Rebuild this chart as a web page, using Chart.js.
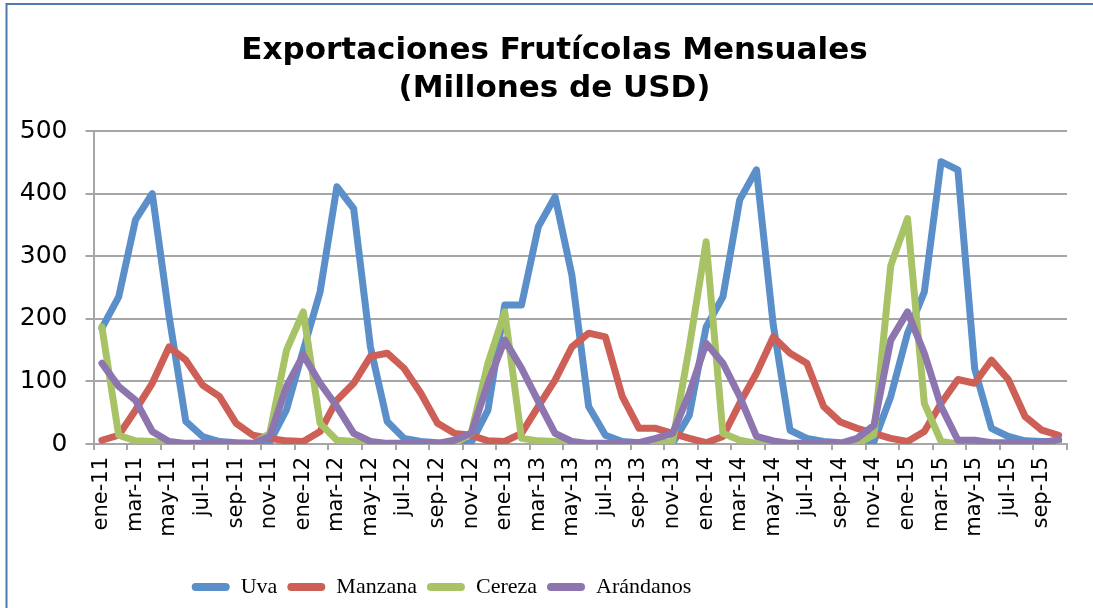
<!DOCTYPE html>
<html>
<head>
<meta charset="utf-8">
<script src="https://cdn.jsdelivr.net/npm/chart.js@4"></script>
<style>
  html, body { margin: 0; padding: 0; background: #fff; }
  canvas { display: block; }
</style>
</head>
<body>
<canvas id="exportChart" width="1093" height="608"></canvas>
<script>
// Months ene-11 .. oct-15
const monthNames = ['ene', 'feb', 'mar', 'abr', 'may', 'jun', 'jul', 'ago', 'sep', 'oct', 'nov', 'dic'];
const years = ['11', '12', '13', '14', '15'];
const months = [];
years.forEach(y => monthNames.forEach(m => months.push(m + '-' + y)));
months.length = 58;

const uva = [
  185, 235, 358, 400, 205, 36, 12, 4, 2, 1, 3, 55,
  150, 243, 411, 376, 155, 36, 9, 4, 2, 1, 2, 54,
  222, 222, 347, 395, 270, 60, 14, 4, 2, 1, 1, 46,
  187, 235, 390, 438, 190, 22, 9, 4, 2, 1, 4, 76,
  177, 243, 451, 438, 120, 25, 12, 5, 4, 4
];
const manzana = [
  6, 14, 54, 97, 155, 134, 94, 76, 33, 14, 9, 5,
  4, 20, 70, 97, 140, 145, 121, 81, 33, 17, 14, 5,
  4, 17, 60, 102, 155, 177, 171, 76, 25, 25, 17, 9,
  2, 12, 65, 113, 171, 145, 129, 60, 35, 25, 17, 9,
  4, 20, 65, 103, 97, 134, 103, 44, 22, 14
];
const cereza = [
  187, 14, 5, 4, 0, 0, 0, 0, 0, 0, 17, 150,
  211, 33, 6, 4, 0, 0, 0, 0, 0, 0, 17, 129,
  211, 9, 5, 4, 0, 0, 0, 0, 0, 0, 4, 155,
  323, 17, 6, 1, 0, 0, 0, 0, 0, 0, 15, 285,
  360, 65, 4, 0, 0, 0, 0, 0, 0, 0
];
const arandanos = [
  129, 92, 70, 20, 4, 1, 1, 1, 1, 1, 12, 92,
  142, 97, 60, 17, 4, 1, 1, 1, 1, 6, 17, 97,
  166, 121, 68, 17, 4, 1, 1, 1, 2, 9, 17, 81,
  161, 129, 76, 12, 5, 1, 1, 1, 1, 9, 30, 166,
  211, 145, 60, 6, 6, 2, 2, 2, 2, 7
];

const GRID = '#A6A6A6';
Chart.defaults.font.family = 'DejaVu Sans';
Chart.defaults.color = '#000';

function series(label, data, color, order) {
  return {
    label: label,
    data: data,
    borderColor: color,
    backgroundColor: color,
    borderWidth: 7,
    borderJoinStyle: 'round',
    borderCapStyle: 'round',
    pointRadius: 0,
    tension: 0,
    order: order
  };
}

// move title / legend to where the original puts them
const shiftBoxes = {
  id: 'shiftBoxes',
  afterLayout(chart) {
    chart.titleBlock.left += 21;
    chart.titleBlock.right += 21;
    chart.legend.left -= 92;
    chart.legend.right -= 92;
  }
};

const frame = {
  id: 'frame',
  afterDraw(chart) {
    const ctx = chart.ctx;
    ctx.save();
    ctx.strokeStyle = '#4E79AC';
    ctx.lineWidth = 2;
    ctx.strokeRect(6.5, 4, 2000, 2000);
    ctx.restore();
  }
};

const ctx = document.getElementById('exportChart').getContext('2d');
new Chart(ctx, {
  type: 'line',
  data: {
    labels: months,
    datasets: [
      series('Uva', uva, '#5B8FC9', 4),
      series('Manzana', manzana, '#CD5F56', 3),
      series('Cereza', cereza, '#A7C366', 2),
      series('Arándanos', arandanos, '#8D75B0', 1)
    ]
  },
  options: {
    responsive: false,
    animation: false,
    layout: { padding: { left: 0, right: 26, top: 0, bottom: 0 } },
    plugins: {
      title: {
        display: true,
        text: ['Exportaciones Frutícolas Mensuales', '(Millones de USD)'],
        font: { size: 31, weight: 'bold', lineHeight: 38 / 31 },
        color: '#000',
        padding: { top: 32, bottom: 23 }
      },
      legend: {
        position: 'bottom',
        labels: {
          boxWidth: 38,
          boxHeight: 8,
          padding: 10,
          useBorderRadius: true,
          borderRadius: 4,
          font: { family: 'Liberation Serif', size: 22 },
          color: '#000',
          sort: (a, b) => a.datasetIndex - b.datasetIndex,
          generateLabels: chart =>
            Chart.defaults.plugins.legend.labels.generateLabels(chart)
              .map(l => Object.assign(l, { fillStyle: l.strokeStyle, lineWidth: 0 }))
        }
      },
      tooltip: { enabled: false }
    },
    scales: {
      x: {
        offset: true,
        grid: {
          offset: true,
          drawOnChartArea: false,
          drawTicks: true,
          tickLength: 6,
          lineWidth: 2,
          color: c => (c.index === undefined || c.index % 2 === 0) ? GRID : 'rgba(0,0,0,0)'
        },
        border: { display: true, color: GRID, width: 2 },
        ticks: {
          autoSkip: false,
          minRotation: 90,
          maxRotation: 90,
          padding: 7,
          font: { size: 21 },
          color: '#000',
          callback: function (v, i) { return i % 2 === 0 ? this.getLabelForValue(v) : ''; }
        },
        afterFit: s => { s.height = 122; }
      },
      y: {
        min: 0,
        max: 500,
        ticks: { stepSize: 100, padding: 18, font: { size: 25 }, color: '#000' },
        grid: { color: GRID, lineWidth: 2, tickLength: 8 },
        border: { display: true, color: GRID, width: 2 },
        afterFit: s => { s.width = 93.5; }
      }
    }
  },
  plugins: [shiftBoxes, frame]
});
</script>
</body>
</html>
